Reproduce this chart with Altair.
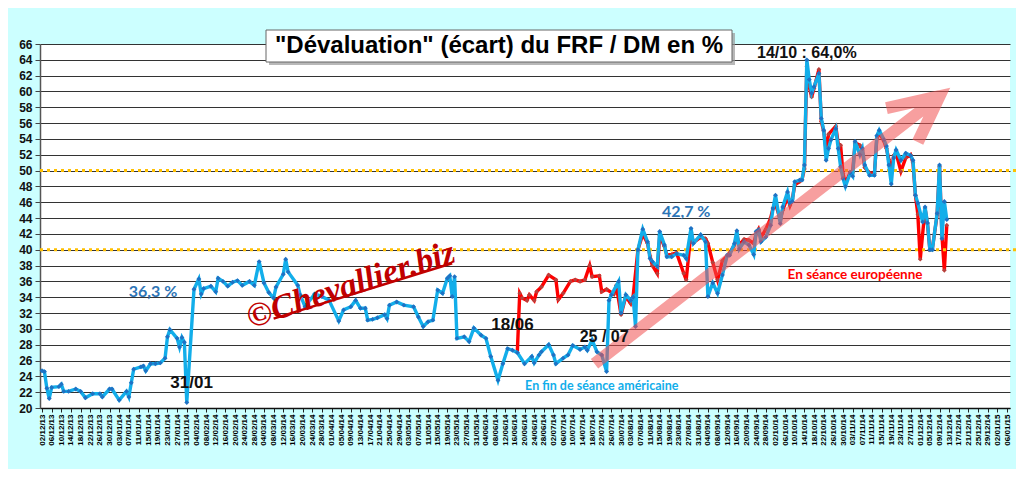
import altair as alt
import pandas as pd

# ---------------- data ----------------
blue_dates = [
    "2013-12-02", "2013-12-03", "2013-12-04", "2013-12-05", "2013-12-06", "2013-12-09", "2013-12-10",
    "2013-12-11", "2013-12-13", "2013-12-16", "2013-12-18", "2013-12-20", "2013-12-23", "2013-12-26",
    "2013-12-27", "2013-12-30", "2013-12-31", "2014-01-03", "2014-01-06", "2014-01-07", "2014-01-08",
    "2014-01-09", "2014-01-12", "2014-01-13", "2014-01-14", "2014-01-16", "2014-01-18", "2014-01-20",
    "2014-01-22", "2014-01-23", "2014-01-24", "2014-01-27", "2014-01-28", "2014-01-29", "2014-01-30",
    "2014-01-31", "2014-02-03", "2014-02-05", "2014-02-06", "2014-02-07", "2014-02-10", "2014-02-12",
    "2014-02-13", "2014-02-15", "2014-02-17", "2014-02-19", "2014-02-21", "2014-02-23", "2014-02-26",
    "2014-02-28", "2014-03-02", "2014-03-04", "2014-03-06", "2014-03-08", "2014-03-09", "2014-03-12",
    "2014-03-13", "2014-03-14", "2014-03-18", "2014-03-19", "2014-03-21", "2014-03-25", "2014-03-28",
    "2014-03-31", "2014-04-04", "2014-04-06", "2014-04-09", "2014-04-11", "2014-04-13", "2014-04-15",
    "2014-04-16", "2014-04-18", "2014-04-20", "2014-04-23", "2014-04-24", "2014-04-25", "2014-04-28",
    "2014-05-01", "2014-05-05", "2014-05-07", "2014-05-09", "2014-05-11", "2014-05-13", "2014-05-15",
    "2014-05-17", "2014-05-19", "2014-05-20", "2014-05-21", "2014-05-22", "2014-05-23", "2014-05-26",
    "2014-05-28", "2014-05-30", "2014-06-02", "2014-06-04", "2014-06-06", "2014-06-09", "2014-06-11",
    "2014-06-13", "2014-06-15", "2014-06-17", "2014-06-20", "2014-06-23", "2014-06-24", "2014-06-26",
    "2014-06-27", "2014-06-30", "2014-07-02", "2014-07-03", "2014-07-06", "2014-07-08", "2014-07-10",
    "2014-07-13", "2014-07-15", "2014-07-16", "2014-07-18", "2014-07-20", "2014-07-22", "2014-07-24",
    "2014-07-25", "2014-07-26", "2014-07-29", "2014-07-30", "2014-08-01", "2014-08-03", "2014-08-04",
    "2014-08-05", "2014-08-06", "2014-08-08", "2014-08-10", "2014-08-11", "2014-08-12", "2014-08-14",
    "2014-08-15", "2014-08-17", "2014-08-18", "2014-08-20", "2014-08-22", "2014-08-25", "2014-08-26",
    "2014-08-28", "2014-08-29", "2014-09-01", "2014-09-03", "2014-09-04", "2014-09-06", "2014-09-08",
    "2014-09-10", "2014-09-12", "2014-09-13", "2014-09-15", "2014-09-16", "2014-09-17", "2014-09-19",
    "2014-09-21", "2014-09-23", "2014-09-24", "2014-09-25", "2014-09-26", "2014-09-28", "2014-09-30",
    "2014-10-01", "2014-10-02", "2014-10-04", "2014-10-05", "2014-10-07", "2014-10-08", "2014-10-09",
    "2014-10-10", "2014-10-12", "2014-10-13", "2014-10-14", "2014-10-15", "2014-10-16", "2014-10-17",
    "2014-10-18", "2014-10-20", "2014-10-21", "2014-10-22", "2014-10-23", "2014-10-24", "2014-10-25",
    "2014-10-27", "2014-10-28", "2014-10-29", "2014-10-30", "2014-10-31", "2014-11-02", "2014-11-03",
    "2014-11-04", "2014-11-06", "2014-11-07", "2014-11-08", "2014-11-10", "2014-11-12", "2014-11-13",
    "2014-11-14", "2014-11-16", "2014-11-17", "2014-11-18", "2014-11-19", "2014-11-20", "2014-11-21",
    "2014-11-23", "2014-11-25", "2014-11-27", "2014-11-28", "2014-11-29", "2014-11-30", "2014-12-02",
    "2014-12-03", "2014-12-04", "2014-12-05", "2014-12-06", "2014-12-08", "2014-12-09", "2014-12-10",
    "2014-12-11", "2014-12-12",
]
blue_values = [
    24.7, 24.6, 22.5, 21.2, 22.6, 22.7, 23.0,
    22.1, 22.1, 22.4, 22.1, 21.3, 21.8, 21.8,
    21.4, 22.4, 22.4, 21.0, 22.1, 21.4, 23.2,
    24.9, 25.2, 25.3, 24.7, 25.6, 25.6, 25.7,
    26.3, 29.0, 29.9, 28.8, 27.7, 28.9, 28.3,
    20.7, 35.0, 36.3, 34.4, 35.1, 35.4, 34.7,
    36.4, 36.0, 35.4, 35.9, 36.1, 35.5, 36.0,
    35.5, 38.5, 35.8, 34.6, 33.9, 35.3, 36.9,
    38.8, 37.2, 35.5, 34.3, 32.8, 34.4, 34.1,
    33.6, 31.0, 32.4, 32.8, 33.6, 32.6, 32.6,
    31.1, 31.2, 31.4, 31.8, 31.3, 33.0, 33.4,
    33.0, 32.8, 31.5, 30.3, 30.9, 31.1, 34.9,
    34.5, 36.4, 36.7, 34.1, 36.6, 28.8, 29.0,
    28.4, 30.1, 29.2, 28.8, 26.5, 23.5, 25.6,
    27.5, 27.3, 27.0, 25.6, 26.5, 25.7, 26.7,
    27.1, 28.0, 26.7, 25.6, 26.3, 26.7, 27.9,
    27.4, 27.7, 27.3, 28.6, 27.1, 26.7, 24.6,
    33.6, 34.3, 36.0, 32.0, 34.3, 33.6, 34.0,
    30.3, 40.0, 42.6, 41.0, 38.9, 38.5, 37.9,
    42.3, 40.6, 39.1, 39.1, 39.5, 39.3, 38.9,
    42.7, 40.8, 41.9, 41.0, 34.1, 35.8, 34.5,
    36.8, 39.3, 39.3, 40.8, 42.4, 40.1, 41.0,
    40.6, 39.4, 42.3, 42.5, 41.0, 41.6, 43.1,
    45.2, 46.9, 43.3, 45.4, 47.3, 45.9, 46.1,
    48.6, 48.8, 48.8, 50.7, 64.0, 61.5, 59.8,
    60.6, 62.3, 56.6, 55.1, 51.3, 52.8, 53.9,
    55.3, 52.8, 50.5, 49.0, 48.0, 49.7, 49.3,
    53.7, 52.0, 52.8, 50.7, 49.4, 49.4, 54.4,
    55.1, 53.9, 53.1, 50.7, 48.3, 51.6, 52.6,
    51.3, 52.2, 51.9, 51.3, 46.9, 45.9, 43.5,
    45.4, 43.4, 40.0, 40.0, 44.6, 50.7, 41.4,
    46.1, 43.8,
]

red_dates = [
    "2014-06-17", "2014-06-18", "2014-06-19", "2014-06-21", "2014-06-22", "2014-06-24", "2014-06-25",
    "2014-06-27", "2014-06-30", "2014-07-03", "2014-07-04", "2014-07-06", "2014-07-09", "2014-07-11",
    "2014-07-13", "2014-07-15", "2014-07-17", "2014-07-18", "2014-07-21", "2014-07-22", "2014-07-24",
    "2014-07-27", "2014-07-28", "2014-07-30", "2014-08-01", "2014-08-03", "2014-08-04", "2014-08-06",
    "2014-08-08", "2014-08-10", "2014-08-11", "2014-08-12", "2014-08-14", "2014-08-15", "2014-08-17",
    "2014-08-18", "2014-08-20", "2014-08-22", "2014-08-25", "2014-08-26", "2014-08-28", "2014-08-29",
    "2014-09-01", "2014-09-03", "2014-09-04", "2014-09-06", "2014-09-08", "2014-09-10", "2014-09-12",
    "2014-09-13", "2014-09-15", "2014-09-16", "2014-09-17", "2014-09-19", "2014-09-21", "2014-09-23",
    "2014-09-24", "2014-09-25", "2014-09-26", "2014-09-28", "2014-09-30", "2014-10-01", "2014-10-02",
    "2014-10-04", "2014-10-05", "2014-10-07", "2014-10-08", "2014-10-09", "2014-10-10", "2014-10-12",
    "2014-10-13", "2014-10-14", "2014-10-15", "2014-10-16", "2014-10-17", "2014-10-18", "2014-10-20",
    "2014-10-21", "2014-10-22", "2014-10-23", "2014-10-24", "2014-10-27", "2014-10-28", "2014-10-29",
    "2014-10-30", "2014-10-31", "2014-11-02", "2014-11-03", "2014-11-04", "2014-11-06", "2014-11-07",
    "2014-11-08", "2014-11-10", "2014-11-12", "2014-11-13", "2014-11-14", "2014-11-16", "2014-11-17",
    "2014-11-18", "2014-11-19", "2014-11-20", "2014-11-21", "2014-11-23", "2014-11-25", "2014-11-27",
    "2014-11-28", "2014-11-29", "2014-11-30", "2014-12-01", "2014-12-03", "2014-12-04", "2014-12-05",
    "2014-12-06", "2014-12-08", "2014-12-09", "2014-12-10", "2014-12-11", "2014-12-12",
]
red_values = [
    27.0, 34.5, 33.9, 33.6, 34.3, 33.6, 34.7,
    35.3, 36.8, 36.2, 33.7, 34.5, 36.0, 36.2,
    36.0, 36.2, 38.0, 36.6, 36.7, 34.7, 35.0,
    34.4, 35.5, 31.8, 34.1, 33.2, 34.1, 40.0,
    42.0, 40.8, 39.2, 38.0, 37.0, 41.8, 40.4,
    39.3, 39.4, 39.6, 37.0, 36.2, 42.2, 40.9,
    41.6, 41.4, 40.8, 38.4, 36.2, 38.6, 39.2,
    39.6, 40.6, 41.9, 40.6, 41.3, 41.2, 40.8,
    42.0, 42.6, 41.6, 42.6, 44.0, 45.3, 45.8,
    43.8, 45.0, 46.6, 45.6, 46.4, 48.2, 48.6,
    48.9, 50.2, 63.2, 60.6, 59.3, 60.4, 62.8,
    56.2, 55.0, 52.6, 54.6, 55.6, 53.4, 53.2,
    49.6, 48.4, 49.8, 49.8, 53.5, 53.2, 52.6,
    50.4, 49.7, 49.6, 54.0, 54.8, 53.7, 52.8,
    51.4, 49.8, 51.9, 52.2, 49.9, 51.6, 52.0,
    51.0, 46.9, 44.5, 38.8, 45.2, 43.3, 40.0,
    40.1, 44.4, 50.5, 41.8, 37.4, 43.1,
]

# reference levels (dotted orange lines)
ref_levels = [40, 50]

# y tick labels
y_ticks = list(range(20, 67, 2))

# x tick labels: every 4 days, 02/12/13 ... 06/01/15
x_ticks = pd.date_range("2013-12-02", "2015-01-06", freq="4D")

title_text = '"Dévaluation" (écart) du FRF / DM en %'

# annotation texts
black_labels = ["31/01", "18/06"]
black_dates = ["2014-02-02", "2014-06-15"]
black_values = [23.2, 30.5]

label_2507 = ["25 / 07"]
date_2507 = ["2014-07-23"]
value_2507 = [29.0]

peak_label = ["14/10 : 64,0%"]
peak_date = ["2014-10-15"]
peak_value = [64.85]

pct_labels = ["36,3 %", "42,7 %"]
pct_dates = ["2014-01-17", "2014-08-26"]
pct_values = [34.65, 44.75]

us_label = ["En fin de séance américaine"]
us_date = ["2014-07-22"]
us_value = [22.8]

eu_label = ["En séance européenne"]
eu_date = ["2014-11-04"]
eu_value = [36.8]

wm_label = ["©Chevallier.biz"]
wm_date = ["2014-04-09"]
wm_value = [35.5]
wm_line_dates = ["2014-03-08", "2014-05-21"]
wm_line_values = [31.3, 38.3]

# trend arrow (tail, tip, upper arm, tip, lower arm)
arrow_dates = ["2014-07-19", "2014-12-09", "2014-11-17", "2014-12-09", "2014-11-30"]
arrow_values = [25.6, 59.4, 57.9, 59.4, 53.6]

# ---------------- frames ----------------
blue_df = pd.DataFrame({"date": blue_dates, "value": blue_values})
red_df = pd.DataFrame({"date": red_dates, "value": red_values})
ref_df = pd.DataFrame({"value": ref_levels})
arrow_df = pd.DataFrame({"date": arrow_dates, "value": arrow_values,
                         "o": list(range(len(arrow_dates)))})

def tdf(labels, dates, values):
    return pd.DataFrame({"label": labels, "date": dates, "value": values})

x_dom = [alt.DateTime(year=2013, month=12, date=1, hours=4, utc=True),
         alt.DateTime(year=2015, month=1, date=7, hours=5, utc=True)]
x_vals = [alt.DateTime(year=int(d.year), month=int(d.month), date=int(d.day), utc=True) for d in x_ticks]

X = alt.X("date:T", title=None,
          scale=alt.Scale(type="utc", domain=x_dom),
          axis=alt.Axis(values=x_vals, labelExpr="utcFormat(datum.value, '%d/%m/%y')",
                        labelAngle=270, labelOverlap=False, labelFlush=False,
                        labelFont="Liberation Sans", labelFontWeight="bold",
                        labelFontSize=8, labelColor="#000", labelPadding=2,
                        tickSize=4, tickColor="#222", domainColor="#111",
                        domainWidth=1.5, grid=False))
Y = alt.Y("value:Q", title=None,
          scale=alt.Scale(domain=[20, 66], nice=False, zero=False),
          axis=alt.Axis(values=y_ticks, labelFont="Liberation Sans", labelFontWeight="bold",
                        labelFontSize=12, labelColor="#111", labelPadding=3,
                        tickSize=5, tickColor="#444", domainColor="#555", domainWidth=1.5,
                        grid=True, gridColor="#333", gridWidth=1.1))

red_line = alt.Chart(red_df).mark_line(color="#FF0000", strokeWidth=3.4).encode(x=X, y=Y)
red_pts = alt.Chart(red_df).mark_point(shape="diamond", filled=True, size=22,
                                       color="#B8403C", opacity=1).encode(x=X, y=Y)
blue_line = alt.Chart(blue_df).mark_line(color="#12AEEA", strokeWidth=3.4).encode(x=X, y=Y)
blue_pts = alt.Chart(blue_df).mark_point(shape="diamond", filled=True, size=24,
                                         color="#1F72C4", opacity=1).encode(x=X, y=Y)

ref_rules = alt.Chart(ref_df).mark_rule(color="#FFC000", strokeWidth=3,
                                        strokeDash=[3, 4]).encode(
    y=Y, x=alt.value(0), x2=alt.value(978))

arrow = alt.Chart(arrow_df).mark_line(color="#F05050", strokeWidth=12, opacity=0.55,
                                      strokeJoin="miter", strokeCap="butt").encode(
    x=X, y=Y, order="o:O")

wm_text = alt.Chart(tdf(wm_label, wm_date, wm_value)).mark_text(
    font="Liberation Serif", fontStyle="italic", fontWeight="bold", fontSize=34,
    color="#C00000", angle=342, align="center", baseline="middle").encode(
    x=X, y=Y, text="label:N")
wm_line = alt.Chart(pd.DataFrame({"date": [wm_line_dates[0]], "date2": [wm_line_dates[1]],
                                  "value": [wm_line_values[0]], "value2": [wm_line_values[1]]})
                    ).mark_rule(color="#C00000", strokeWidth=2.5).encode(
    x=X, x2="date2:T", y=Y, y2="value2:Q")

t_black = alt.Chart(tdf(black_labels, black_dates, black_values)).mark_text(
    font="Liberation Sans", fontWeight="bold", fontSize=17, color="#111").encode(
    x=X, y=Y, text="label:N")
t_2507 = alt.Chart(tdf(label_2507, date_2507, value_2507)).mark_text(
    font="Liberation Sans", fontWeight="bold", fontSize=16, color="#111").encode(
    x=X, y=Y, text="label:N")
t_peak = alt.Chart(tdf(peak_label, peak_date, peak_value)).mark_text(
    font="Liberation Sans", fontWeight="bold", fontSize=16, color="#111").encode(
    x=X, y=Y, text="label:N")
t_pct = alt.Chart(tdf(pct_labels, pct_dates, pct_values)).mark_text(
    font="Lato", fontWeight="bold", fontSize=16, color="#2E75B6").encode(
    x=X, y=Y, text="label:N")
t_us = alt.Chart(tdf(us_label, us_date, us_value)).mark_text(
    font="Lato", fontWeight="bold", fontSize=12.5, color="#12AEEA").encode(
    x=X, y=Y, text="label:N")
t_eu = alt.Chart(tdf(eu_label, eu_date, eu_value)).mark_text(
    font="Lato", fontWeight="bold", fontSize=13.5, color="#FF0000").encode(
    x=X, y=Y, text="label:N")

title_df = pd.DataFrame({"label": [title_text]})
title_shadow = alt.Chart(title_df).mark_rect(color="#9a9a9a", opacity=0.7).encode(
    x=alt.value(229), x2=alt.value(695), y=alt.value(-11), y2=alt.value(21))
title_box = alt.Chart(title_df).mark_rect(fill="white", stroke="#666", strokeWidth=1).encode(
    x=alt.value(226), x2=alt.value(692), y=alt.value(-14), y2=alt.value(18))
title_txt = alt.Chart(title_df).mark_text(
    font="Liberation Sans", fontWeight="bold", fontSize=24, color="#000",
    align="center", baseline="middle").encode(
    x=alt.value(459), y=alt.value(2), text="label:N")

chart = alt.layer(
    red_line, ref_rules, red_pts, blue_line, blue_pts, arrow, wm_line, wm_text,
    t_black, t_2507, t_peak, t_pct, t_us, t_eu,
    title_shadow, title_box, title_txt,
).properties(
    width=970, height=364,
    autosize=alt.AutoSizeParams(type="none"),
    padding={"left": 32, "top": 36, "right": 6, "bottom": 61},
    background="#CCFFFF",
).configure_view(fill="white", strokeWidth=0)

chart.save("out.html", embed_options={"renderer": "svg", "actions": False})
